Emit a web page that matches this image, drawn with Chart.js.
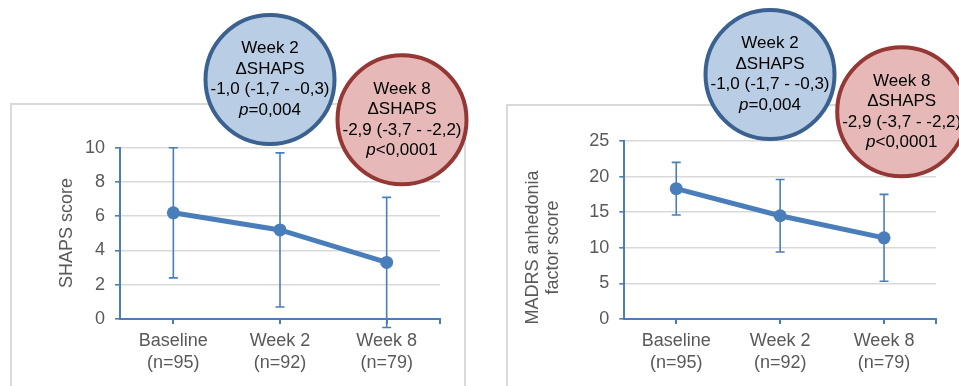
<!DOCTYPE html>
<html>
<head>
<meta charset="utf-8">
<script src="https://cdn.jsdelivr.net/npm/chart.js@4/dist/chart.umd.min.js"></script>
<style>
  html, body { margin: 0; padding: 0; background: #ffffff; overflow: hidden; }
  #wrap { position: relative; width: 959px; height: 386px; }
  canvas { position: absolute; top: 0; }
  #shaps { left: 0; }
  #madrs { left: 480px; }
</style>
</head>
<body>
<div id="wrap">
  <canvas id="shaps" width="480" height="386"></canvas>
  <canvas id="madrs" width="479" height="386"></canvas>
</div>
<script>
// Visits and sample sizes
const visits = ['Baseline', 'Week 2', 'Week 8'];
const sampleSizes = ['(n=95)', '(n=92)', '(n=79)'];

// SHAPS score: mean with lower / upper error limits
const shapsMean = [6.2, 5.2, 3.3];
const shapsLow = [2.4, 0.7, -0.5];
const shapsHigh = [10.0, 9.7, 7.1];

// MADRS anhedonia factor score: mean with lower / upper error limits
const madrsMean = [18.3, 14.5, 11.4];
const madrsLow = [14.6, 9.4, 5.3];
const madrsHigh = [22.0, 19.6, 17.5];

// Change-from-baseline call-out texts
const week2Note = ['Week 2', '\u0394SHAPS', '-1,0 (-1,7 - -0,3)', ['p', '=0,004']];
const week8Note = ['Week 8', '\u0394SHAPS', '-2,9 (-3,7 - -2,2)', ['p', '<0,0001']];

const BLUE = '#4A7EBB';
const GRID = '#D9D9D9';
const TEXT = '#595959';
const FONT = '"Liberation Sans", Arial, sans-serif';
const SIZE = 18;

const xLabels = visits.map((v, i) => [v, sampleSizes[i]]);

// error bars behind the mean line
const errorBars = {
  id: 'errorBars',
  beforeDatasetsDraw(chart, args, opts) {
    const ctx = chart.ctx, xs = chart.scales.x, ys = chart.scales.y;
    ctx.save();
    ctx.strokeStyle = BLUE;
    ctx.lineWidth = 1.6;
    opts.low.forEach((lo, i) => {
      const x = xs.getPixelForValue(i);
      const yl = ys.getPixelForValue(lo);
      const yh = ys.getPixelForValue(opts.high[i]);
      ctx.beginPath();
      ctx.moveTo(x, yl); ctx.lineTo(x, yh);
      ctx.moveTo(x - 4.5, yl); ctx.lineTo(x + 4.5, yl);
      ctx.moveTo(x - 4.5, yh); ctx.lineTo(x + 4.5, yh);
      ctx.stroke();
    });
    ctx.restore();
  }
};

// outer frame, rotated axis title and closing tick on the category axis
const frame = {
  id: 'frame',
  beforeDraw(chart, args, opts) {
    const ctx = chart.ctx;
    ctx.save();
    ctx.strokeStyle = GRID;
    ctx.lineWidth = 2;
    ctx.strokeRect(opts.box[0], opts.box[1], opts.box[2], opts.box[3]);
    ctx.restore();
  },
  afterDraw(chart, args, opts) {
    const ctx = chart.ctx, a = chart.chartArea;
    ctx.save();
    ctx.strokeStyle = BLUE;
    ctx.lineWidth = 2;
    ctx.beginPath();
    ctx.moveTo(a.right, a.bottom);
    ctx.lineTo(a.right, a.bottom + 5);
    ctx.stroke();

    ctx.fillStyle = TEXT;
    ctx.font = SIZE + 'px ' + FONT;
    ctx.textAlign = 'center';
    ctx.textBaseline = 'middle';
    opts.title.forEach((line, i) => {
      ctx.save();
      ctx.translate(opts.titleX[i], opts.titleY);
      ctx.rotate(-Math.PI / 2);
      ctx.fillText(line, 0, 0);
      ctx.restore();
    });
    ctx.restore();
  }
};

// call-out circles with the change scores
function drawNote(ctx, cx, cy, fill, stroke, lines) {
  ctx.save();
  ctx.beginPath();
  ctx.arc(cx, cy, 64.5, 0, Math.PI * 2);
  ctx.fillStyle = fill;
  ctx.fill();
  ctx.lineWidth = 4;
  ctx.strokeStyle = stroke;
  ctx.stroke();
  ctx.fillStyle = '#000000';
  ctx.textBaseline = 'middle';
  const step = 20.5;
  lines.forEach((line, i) => {
    const y = cy + (i - 1.5) * step;
    if (Array.isArray(line)) {
      ctx.font = 'italic 17px ' + FONT;
      const w1 = ctx.measureText(line[0]).width;
      ctx.font = '17px ' + FONT;
      const w2 = ctx.measureText(line[1]).width;
      const x0 = cx - (w1 + w2) / 2;
      ctx.textAlign = 'left';
      ctx.font = 'italic 17px ' + FONT;
      ctx.fillText(line[0], x0, y);
      ctx.font = '17px ' + FONT;
      ctx.fillText(line[1], x0 + w1, y);
    } else {
      ctx.font = '17px ' + FONT;
      ctx.textAlign = 'center';
      ctx.fillText(line, cx, y);
    }
  });
  ctx.restore();
}

const notes = {
  id: 'notes',
  afterDraw(chart, args, opts) {
    drawNote(chart.ctx, opts.w2[0], opts.w2[1], '#B9CDE5', '#3A6190', week2Note);
    drawNote(chart.ctx, opts.w8[0], opts.w8[1], '#E6B9B8', '#953735', week8Note);
  }
};

function makeChart(id, cfg) {
  return new Chart(document.getElementById(id), {
    type: 'line',
    data: {
      labels: xLabels,
      datasets: [{
        data: cfg.mean,
        borderColor: BLUE,
        backgroundColor: BLUE,
        borderWidth: 5,
        pointRadius: 6.5,
        pointBorderWidth: 0,
        pointBackgroundColor: BLUE,
        tension: 0,
        clip: false
      }]
    },
    options: {
      responsive: false,
      animation: false,
      devicePixelRatio: 1,
      layout: { padding: { top: cfg.top, right: cfg.right, left: 0, bottom: 0 } },
      plugins: {
        legend: { display: false },
        tooltip: { enabled: false },
        errorBars: { low: cfg.low, high: cfg.high },
        frame: { box: cfg.box, title: cfg.title, titleX: cfg.titleX, titleY: cfg.titleY },
        notes: { w2: cfg.w2, w8: cfg.w8 }
      },
      scales: {
        x: {
          offset: true,
          afterFit(s) { s.height = 386 - 319; },
          grid: { drawOnChartArea: false, drawTicks: true, tickLength: 5, tickColor: BLUE, lineWidth: 2, offset: false },
          border: { display: true, color: BLUE, width: 2 },
          ticks: { color: TEXT, padding: 6, font: { family: FONT, size: SIZE, lineHeight: 1.22 }, maxRotation: 0, autoSkip: false }
        },
        y: {
          min: 0,
          max: cfg.max,
          afterFit(s) { s.width = cfg.axisX; },
          grid: {
            color: c => (c.tick && c.tick.value === 0) ? 'rgba(0,0,0,0)' : GRID,
            lineWidth: 1.6,
            tickLength: 5,
            tickColor: BLUE
          },
          border: { display: true, color: BLUE, width: 2 },
          ticks: { stepSize: cfg.step, color: TEXT, padding: 10, font: { family: FONT, size: SIZE } }
        }
      }
    },
    plugins: [frame, errorBars, notes]
  });
}

makeChart('shaps', {
  mean: shapsMean, low: shapsLow, high: shapsHigh,
  max: 10, step: 2,
  top: 147.7, right: 40, axisX: 120,
  box: [11, 104, 454, 400],
  title: ['SHAPS score'], titleX: [67], titleY: 233,
  w2: [270, 79.5], w8: [402, 119.7]
});

makeChart('madrs', {
  mean: madrsMean, low: madrsLow, high: madrsHigh,
  max: 25, step: 5,
  top: 141, right: 23, axisX: 144.3,
  box: [27, 105, 600, 400],
  title: ['MADRS anhedonia', 'factor score'], titleX: [53.3, 72.7], titleY: 247.5,
  w2: [290, 74.5], w8: [421.7, 111.7]
});
</script>
</body>
</html>
